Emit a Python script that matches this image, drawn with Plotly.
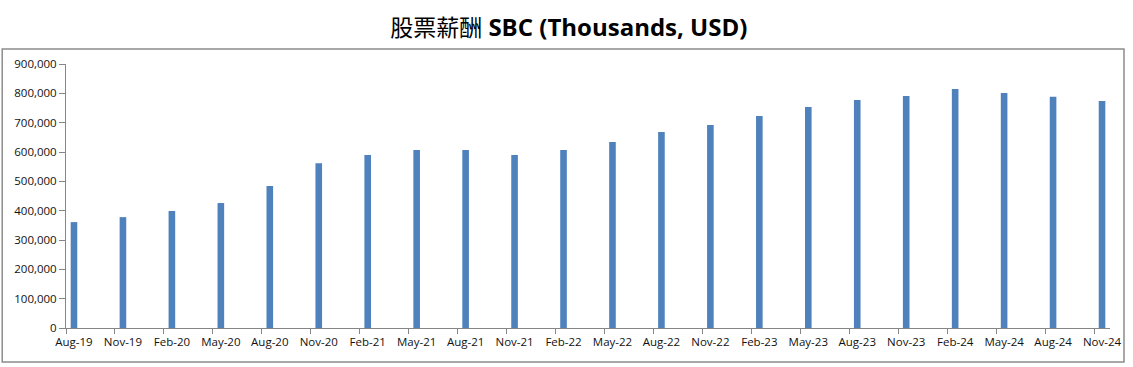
import plotly.graph_objects as go

quarters = ["Aug-19", "Nov-19", "Feb-20", "May-20", "Aug-20", "Nov-20", "Feb-21", "May-21",
            "Aug-21", "Nov-21", "Feb-22", "May-22", "Aug-22", "Nov-22", "Feb-23", "May-23",
            "Aug-23", "Nov-23", "Feb-24", "May-24", "Aug-24", "Nov-24"]
sbc = [361000, 378000, 399000, 426000, 484000, 562000, 590000, 607000,
       607000, 590000, 607000, 634000, 668000, 692000, 723000, 753000,
       777000, 791000, 815000, 801000, 788000, 774000]
y_ticks = [0, 100000, 200000, 300000, 400000, 500000, 600000, 700000, 800000, 900000]

off = 0.163
rng = [-off, len(quarters) - 1 + off]

fig = go.Figure()
fig.add_trace(go.Bar(x=quarters, y=sbc, width=0.135, marker=dict(color="#4F81BD", line=dict(width=0)),
                     hoverinfo="x+y"))
fig.add_trace(go.Scatter(x=[], y=[], xaxis="x2", showlegend=False))

axis_col = "#868686"
font_tick = dict(family="Open Sans, Liberation Sans, sans-serif", size=11.5, color="#111111")

fig.update_layout(
    width=1133, height=367,
    margin=dict(l=66, r=19, t=64, b=39),
    paper_bgcolor="white", plot_bgcolor="white",
    showlegend=False,
    title=dict(
        text="<span style='font-family:Noto Sans CJK TC;font-weight:normal;font-size:23px'>股票薪酬</span> <b>SBC (Thousands, USD)</b>",
        x=0.502, xanchor="center", y=0.925, yanchor="middle",
        font=dict(family="Open Sans, Noto Sans CJK TC, sans-serif", size=24, color="#000000"),
    ),
    xaxis=dict(type="category", range=rng, showline=True, linecolor=axis_col, linewidth=1,
               ticks="", showgrid=False, tickfont=font_tick, tickangle=0, fixedrange=True,
               ticklabelstandoff=3),
    xaxis2=dict(overlaying="x", anchor="y", side="bottom", range=rng,
                tickvals=[i - off for i in range(len(quarters))],
                ticks="outside", ticklen=5, tickcolor=axis_col, showticklabels=False,
                showgrid=False, zeroline=False, showline=False),
    yaxis=dict(range=[0, 900000], tickvals=y_ticks, tickformat=",d", showline=True,
               linecolor=axis_col, linewidth=1, ticks="outside", ticklen=6, tickcolor=axis_col,
               showgrid=False, zeroline=False, tickfont=font_tick),
    shapes=[dict(type="rect", xref="paper", yref="paper",
                 x0=-0.0611, x1=1.0134, y0=-0.1288, y1=1.0568,
                 line=dict(color="#8c8c8c", width=1.5), fillcolor="rgba(0,0,0,0)", layer="below")],
)

fig.write_html("out.html", config={"displayModeBar": False},
               post_script="document.body.style.margin='0';document.body.style.padding='0';")
